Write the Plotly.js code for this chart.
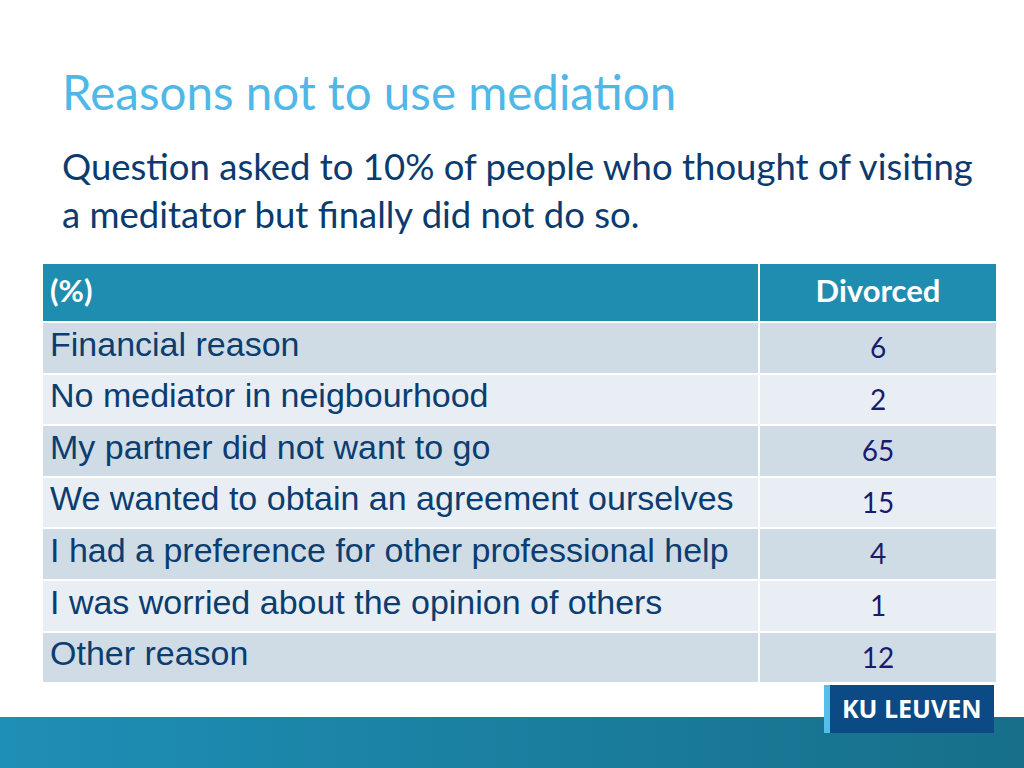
<!DOCTYPE html>
<html>
<head>
<meta charset="utf-8">
<script src="https://cdn.plot.ly/plotly-3.0.1.min.js"></script>
<style>html,body{margin:0;padding:0;background:#fff;}#chart{width:1024px;height:768px;}</style>
</head>
<body>
<div id="chart"></div>
<script>
const headerLabels = ["(%)", "Divorced"];
const reasons = [
  "Financial reason",
  "No mediator in neigbourhood",
  "My partner did not want to go",
  "We wanted to obtain an agreement ourselves",
  "I had a preference for other professional help",
  "I was worried about the opinion of others",
  "Other reason"
];
const divorced = [6, 2, 65, 15, 4, 1, 12];
const titleText = "Reasons not to use mediation";
const subtitleLines = ["Question asked to 10% of people who thought of visiting", "a meditator but finally did not do so."];

const W = 1024, H = 768;
const rowFill = reasons.map((_, i) => i % 2 === 0 ? "#cfdce6" : "#e8eef3");

// small leading line pushes the visible text lower inside its cell
const pushDown = (s, size) => `<br><span style="font-size:${size}px">${s}</span>`;

const table = {
  type: "table",
  domain: {x: [42 / W, 997 / W], y: [0.02, 1 - 263 / H]},
  columnwidth: [717, 238],
  header: {
    values: headerLabels.map(h => pushDown(h, 31)),
    align: ["left", "center"],
    height: 59,
    fill: {color: "#1f8db0"},
    line: {color: "#ffffff", width: 2},
    font: {family: "Lato, 'Open Sans', sans-serif", size: 5, color: "#ffffff", weight: "bold"}
  },
  cells: {
    values: [reasons, divorced.map(v => pushDown(String(v), 28))],
    align: ["left", "center"],
    height: 51.6,
    fill: {color: [rowFill, rowFill]},
    line: {color: "#ffffff", width: 2},
    font: {
      family: ["'Liberation Sans', Arial, sans-serif", "Lato, 'Open Sans', sans-serif"],
      size: [34, 5],
      color: ["#0b3d70", "#1a1a6e"]
    }
  }
};

// bottom gradient bar built from thin rect strips
const shapes = [];
const strips = 64;
const c0 = [30, 143, 182], c1 = [23, 111, 138];
for (let i = 0; i < strips; i++) {
  const t = i / (strips - 1);
  const c = c0.map((v, k) => Math.round(v + (c1[k] - v) * t));
  shapes.push({
    type: "rect", xref: "paper", yref: "paper",
    x0: i / strips, x1: (i + 1) / strips + 0.002,
    y0: 0, y1: 1 - 717 / H,
    fillcolor: `rgb(${c[0]},${c[1]},${c[2]})`, line: {width: 0}, layer: "below"
  });
}
// logo box
shapes.push({type: "rect", xref: "paper", yref: "paper",
  x0: 824 / W, x1: 994 / W, y0: 1 - 733 / H, y1: 1 - 685 / H,
  fillcolor: "#0b4a84", line: {width: 0}, layer: "above"});
shapes.push({type: "rect", xref: "paper", yref: "paper",
  x0: 824 / W, x1: 830 / W, y0: 1 - 733 / H, y1: 1 - 685 / H,
  fillcolor: "#55bde9", line: {width: 0}, layer: "above"});

const annotations = [
  {text: titleText, xref: "paper", yref: "paper", x: 60 / W, y: 1 - 92 / H,
   xanchor: "left", yanchor: "middle", showarrow: false,
   font: {family: "Lato, 'Open Sans', sans-serif", size: 47.5, color: "#4fb8e6"}},
  {text: subtitleLines[0], xref: "paper", yref: "paper", x: 60 / W, y: 1 - 166 / H,
   xanchor: "left", yanchor: "middle", showarrow: false,
   font: {family: "Lato, 'Open Sans', sans-serif", size: 36.5, color: "#0b3b6e"}},
  {text: subtitleLines[1], xref: "paper", yref: "paper", x: 60 / W, y: 1 - 214 / H,
   xanchor: "left", yanchor: "middle", showarrow: false,
   font: {family: "Lato, 'Open Sans', sans-serif", size: 36.5, color: "#0b3b6e"}},
  {text: "<b>KU LEUVEN</b>", xref: "paper", yref: "paper", x: 912 / W, y: 1 - 708 / H,
   xanchor: "center", yanchor: "middle", showarrow: false,
   font: {family: "'Open Sans', sans-serif", size: 25, color: "#ffffff"}}
];

const layout = {
  width: W, height: H,
  margin: {l: 0, r: 0, t: 0, b: 0},
  paper_bgcolor: "#ffffff",
  showlegend: false,
  shapes: shapes,
  annotations: annotations
};

Plotly.newPlot("chart", [table], layout, {displayModeBar: false, staticPlot: true});
</script>
</body>
</html>
